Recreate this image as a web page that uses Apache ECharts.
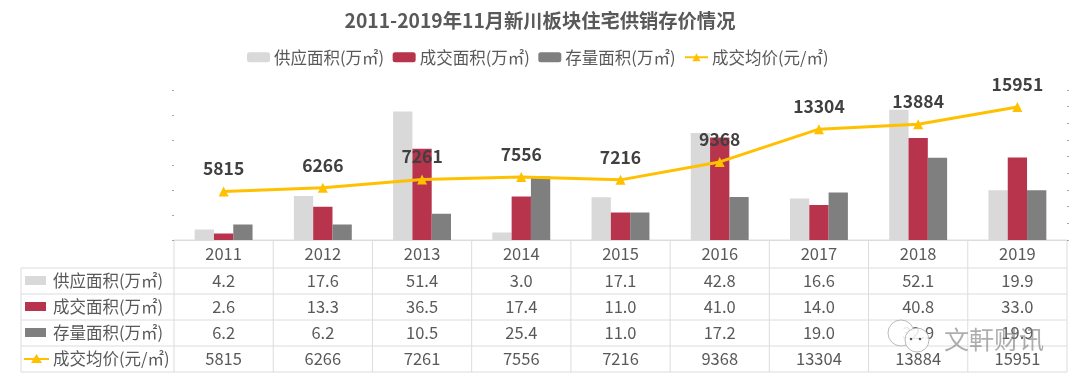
<!DOCTYPE html>
<html>
<head>
<meta charset="utf-8">
<style>
  html, body { margin: 0; padding: 0; background: #fff; }
  #main { width: 1080px; height: 387px; }
</style>
<script src="https://cdn.jsdelivr.net/npm/echarts@6/dist/echarts.min.js"></script>
</head>
<body>
<div id="main"></div>
<script>
const years = ['2011', '2012', '2013', '2014', '2015', '2016', '2017', '2018', '2019']
const supply = [4.2, 17.6, 51.4, 3.0, 17.1, 42.8, 16.6, 52.1, 19.9]
const deal = [2.6, 13.3, 36.5, 17.4, 11.0, 41.0, 14.0, 40.8, 33.0]
const stock = [6.2, 6.2, 10.5, 25.4, 11.0, 17.2, 19.0, 32.9, 19.9]
const price = [5815, 6266, 7261, 7556, 7216, 9368, 13304, 13884, 15951]
const names = ['供应面积(万㎡)', '成交面积(万㎡)', '存量面积(万㎡)', '成交均价(元/㎡)']
const colors = ['#d9d9d9', '#b8334c', '#7f7f7f', '#ffc000']

const font = '"Noto Sans CJK SC", sans-serif'
const textColor = '#595959'
const lineColor = '#dcdce0'

const gridLeft = 174
const gridRight = 1067
const gridTop = 90
const gridBottom = 240
const tableLeft = 21
const tableRows = [268, 294, 320, 346, 372]

const chart = echarts.init(document.getElementById('main'))

// 数据表用 graphic 画，数值直接取上面的数组
function tableGraphic () {
  const els = []
  const line = (x1, y1, x2, y2) => els.push({
    type: 'line',
    silent: true,
    shape: { x1, y1, x2, y2 },
    style: { stroke: lineColor, lineWidth: 1 }
  })
  const text = (x, y, str, align, size) => els.push({
    type: 'text',
    silent: true,
    x,
    y,
    style: { text: str, fill: textColor, font: `${size || 16.5}px ${font}`, textAlign: align || 'center', textVerticalAlign: 'middle' }
  })
  const colWidth = (gridRight - gridLeft) / years.length
  line(gridLeft, gridBottom, gridRight, gridBottom)
  tableRows.forEach(y => line(tableLeft, y, gridRight, y))
  line(tableLeft, tableRows[0], tableLeft, tableRows[4])
  for (let i = 0; i <= years.length; i++) {
    const x = gridLeft + colWidth * i
    line(x, gridBottom, x, tableRows[4])
  }
  const rows = [supply, deal, stock, price]
  rows.forEach((row, r) => {
    const y = (tableRows[r] + tableRows[r + 1]) / 2
    text(53, y, names[r], 'left', 16.5)
    if (r < 3) {
      els.push({
        type: 'rect',
        silent: true,
        shape: { x: 25, y: y - 5, width: 21, height: 9 },
        style: { fill: colors[r] }
      })
    } else {
      line(24, y, 49, y)
      els[els.length - 1].style = { stroke: colors[3], lineWidth: 2 }
      els.push({
        type: 'polygon',
        silent: true,
        shape: { points: [[36.5, y - 5], [31, y + 4], [42, y + 4]] },
        style: { fill: colors[3] }
      })
    }
    row.forEach((v, i) => {
      text(gridLeft + colWidth * (i + 0.5), y, r < 3 ? v.toFixed(1) : String(v))
    })
  })
  // 水印
  const bubble = (cx, cy, rx) => els.push({
    type: 'circle',
    silent: true,
    z: 100,
    shape: { cx, cy, r: rx },
    style: { fill: 'rgba(255,255,255,0.85)', stroke: 'rgba(170,170,170,0.8)', lineWidth: 1 }
  })
  bubble(901, 333, 13)
  bubble(917, 340, 12)
  ;[[911, 339], [920, 339]].forEach(p => els.push({
    type: 'circle',
    silent: true,
    z: 101,
    shape: { cx: p[0], cy: p[1], r: 1.3 },
    style: { fill: '#555' }
  }))
  els.push({
    type: 'text',
    silent: true,
    x: 944,
    y: 339,
    z: 100,
    style: { text: '文軒财讯', fill: 'rgba(120,120,120,0.6)', font: `25px ${font}`, textAlign: 'left', textVerticalAlign: 'middle' }
  })
  return els
}

const barSeries = [supply, deal, stock].map((data, i) => ({
  name: names[i],
  type: 'bar',
  barWidth: 19.3,
  barGap: 0,
  itemStyle: { color: colors[i] },
  data
}))

chart.setOption({
  animation: false,
  backgroundColor: '#fff',
  title: {
    text: '2011-2019年11月新川板块住宅供销存价情况',
    left: 'center',
    top: 6,
    textStyle: { fontFamily: font, fontSize: 19.3, fontWeight: 'bold', color: textColor }
  },
  legend: {
    top: 44,
    left: 242,
    itemGap: 8.5,
    itemWidth: 23,
    itemHeight: 10,
    textStyle: { fontFamily: font, fontSize: 16.5, color: textColor, padding: [0, 0, 0, -1] },
    data: names
  },
  grid: {
    left: gridLeft,
    top: gridTop,
    width: gridRight - gridLeft,
    height: gridBottom - gridTop
  },
  xAxis: {
    type: 'category',
    data: years,
    axisLine: { lineStyle: { color: lineColor } },
    axisTick: { show: false },
    axisLabel: { fontFamily: font, fontSize: 16.5, color: textColor, margin: 5, lineHeight: 18 }
  },
  yAxis: [{
    type: 'value',
    min: 0,
    max: 60,
    interval: 10,
    splitLine: { show: false },
    axisLine: { show: false },
    axisTick: { show: true, length: 2, lineStyle: { color: '#a6a6a6' } },
    axisLabel: { show: false }
  }, {
    type: 'value',
    min: 0,
    max: 18000,
    interval: 2000,
    splitLine: { show: false },
    axisLine: { show: false },
    axisTick: { show: true, length: 2, lineStyle: { color: '#a6a6a6' } },
    axisLabel: { show: false }
  }],
  series: barSeries.concat([{
    name: names[3],
    type: 'line',
    yAxisIndex: 1,
    symbol: 'triangle',
    symbolSize: 10,
    z: 5,
    lineStyle: { color: colors[3], width: 3 },
    itemStyle: { color: colors[3] },
    label: {
      show: true,
      position: 'top',
      distance: 9,
      fontFamily: font,
      fontSize: 17.5,
      fontWeight: 'bold',
      color: '#404040'
    },
    data: price
  }]),
  graphic: { elements: tableGraphic() }
})
</script>
</body>
</html>
